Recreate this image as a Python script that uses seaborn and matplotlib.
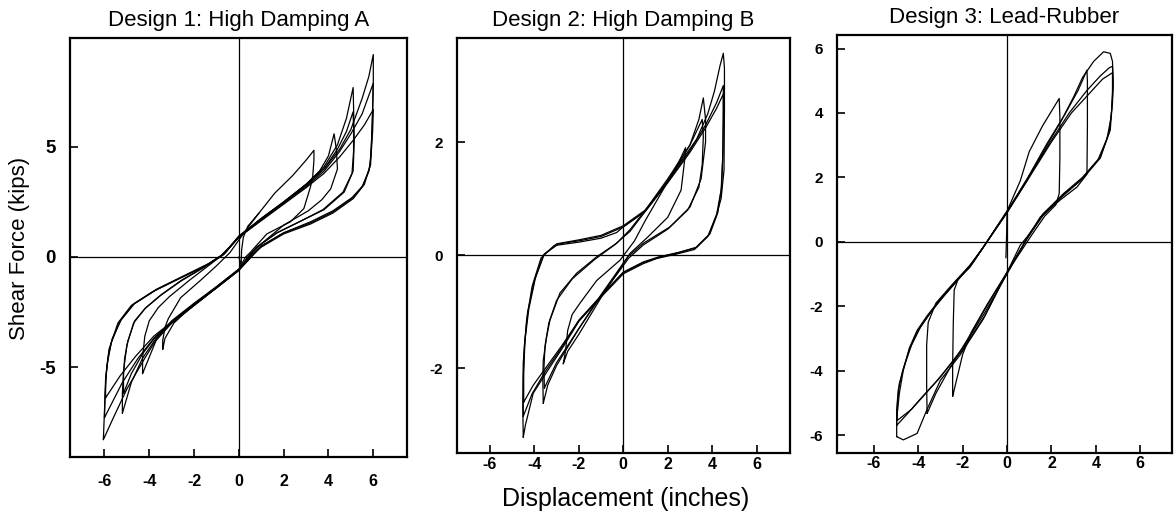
"""
Hysteresis loops (shear force vs displacement) for three isolator designs.
"""

import numpy as np
import pandas as pd
import matplotlib
matplotlib.use("Agg")
import matplotlib.pyplot as plt
import seaborn as sns

# ── Design 1: High Damping A ─────────────────────────────────────────────────
d1_loop1_disp = [-6.05, -6.0, -5.95, -5.8, -5.4, -4.8, -3.8, -2.6, -1.5, -0.7, 0, 1, 2, 3, 3.8, 4.5, 5.0, 5.5, 5.8, 6.0,
                 6.0, 5.95, 5.88, 5.6, 5.1, 4.2, 3.2, 2.0, 1.0, 0.5, 0, -1, -2, -3, -3.6, -4.2, -5.0, -5.6, -6.05]
d1_loop1_force = [-8.3, -7.0, -5.6, -4.2, -3.0, -2.2, -1.55, -0.95, -0.4, 0.1, 0.95, 1.75, 2.5, 3.3, 4.0, 4.9, 5.8, 7.2, 8.2, 9.2,
                  8.0, 6.0, 4.2, 3.3, 2.65, 2.0, 1.5, 1.05, 0.45, 0.0, -0.55, -1.35, -2.1, -2.9, -3.6, -4.6, -6.0, -7.3, -8.3]

d1_loop2_disp = [-6.0, -5.97, -5.9, -5.7, -5.3, -4.7, -3.7, -2.5, -1.4, -0.7, 0, 1, 2, 3, 3.8, 4.5, 5.0, 5.5, 6.0,
                 5.97, 5.92, 5.85, 5.55, 5.1, 4.2, 3.2, 2.0, 1.0, 0.55, 0, -1, -2, -3, -3.8, -4.5, -5.2, -6.0]
d1_loop2_force = [-7.3, -6.2, -5.0, -3.9, -2.9, -2.15, -1.5, -0.9, -0.35, 0.1, 0.9, 1.7, 2.45, 3.2, 3.9, 4.8, 5.6, 6.5, 7.9,
                  6.5, 5.2, 4.1, 3.25, 2.7, 2.05, 1.55, 1.1, 0.5, 0.0, -0.6, -1.4, -2.15, -2.95, -3.7, -4.6, -5.7, -7.3]

d1_loop3_disp = [-5.95, -5.95, -5.85, -5.65, -5.25, -4.65, -3.65, -2.45, -1.35, -0.65, 0, 1, 2, 3, 3.8, 4.5, 5.1, 5.6, 6.0,
                 5.97, 5.9, 5.8, 5.5, 5.05, 4.2, 3.2, 2.0, 1.0, 0.55, 0, -1, -2, -3, -3.8, -4.6, -5.3, -5.95]
d1_loop3_force = [-6.4, -5.6, -4.6, -3.7, -2.85, -2.1, -1.45, -0.85, -0.3, 0.15, 0.9, 1.65, 2.4, 3.15, 3.8, 4.55, 5.3, 6.0, 6.7,
                  5.7, 4.6, 3.9, 3.2, 2.7, 2.1, 1.6, 1.1, 0.5, 0.0, -0.6, -1.4, -2.15, -2.95, -3.6, -4.5, -5.4, -6.4]

d1_loop4_disp = [-5.2, -5.2, -5.15, -5.0, -4.7, -4.2, -3.5, -2.6, -1.6, -0.8, 0, 1, 2, 3, 3.8, 4.4, 4.8, 5.1,
                 5.12, 5.15, 5.1, 4.7, 3.8, 2.7, 1.7, 0.8, 0.4, 0, -1, -2, -3, -3.7, -4.3, -4.8, -5.2]
d1_loop4_force = [-7.1, -6.2, -5.2, -4.0, -3.0, -2.35, -1.75, -1.1, -0.5, 0.05, 0.9, 1.75, 2.5, 3.3, 4.1, 5.1, 6.3, 7.7,
                  6.8, 5.3, 3.9, 2.95, 2.15, 1.6, 1.1, 0.45, 0.0, -0.6, -1.4, -2.2, -3.0, -3.7, -4.6, -5.7, -7.1]

d1_loop5_disp = [-5.15, -5.15, -5.1, -4.95, -4.65, -4.15, -3.45, -2.55, -1.55, -0.75, 0, 1, 2, 3, 3.8, 4.4, 4.8, 5.1,
                 5.12, 5.12, 5.05, 4.65, 3.75, 2.7, 1.7, 0.8, 0.4, 0, -1, -2, -3, -3.7, -4.3, -4.8, -5.15]
d1_loop5_force = [-6.2, -5.4, -4.6, -3.8, -2.9, -2.3, -1.7, -1.05, -0.45, 0.1, 0.9, 1.7, 2.45, 3.25, 4.0, 4.9, 5.7, 6.6,
                  5.8, 4.8, 3.8, 2.95, 2.15, 1.6, 1.1, 0.45, 0.0, -0.6, -1.4, -2.2, -3.0, -3.6, -4.4, -5.3, -6.2]

d1_loop6_disp = [-4.3, -4.3, -4.2, -4.0, -3.6, -3.1, -2.2, -1.3, -0.6, 0, 1, 2, 3, 3.6, 4.0, 4.25,
                 4.35, 4.4, 4.1, 3.7, 3.1, 2.0, 1.0, 0.45, 0, -1, -2, -3, -3.7, -4.3]
d1_loop6_force = [-5.3, -4.6, -3.6, -2.9, -2.3, -1.8, -1.05, -0.35, 0.2, 0.95, 1.75, 2.5, 3.3, 3.9, 4.6, 5.6,
                  4.9, 4.0, 3.1, 2.6, 2.1, 1.45, 0.6, 0.0, -0.6, -1.4, -2.2, -3.0, -3.8, -5.3]

d1_loop7_disp = [-3.4, -3.4, -3.3, -3.15, -2.6, -1.7, -1.0, -0.4, 0.3, 0.9, 1.6, 2.4, 3.0, 3.35,
                 3.35, 3.3, 3.2, 2.9, 2.3, 1.25, 0.5, 0.3, 0, -1, -2, -2.9, -3.3, -3.4]
d1_loop7_force = [-4.2, -3.8, -3.2, -2.8, -1.85, -1.05, -0.4, 0.2, 1.2, 2.0, 2.9, 3.7, 4.4, 4.85,
                  4.4, 3.7, 3.2, 2.2, 1.6, 1.05, 0.2, 0.0, -0.55, -1.35, -2.15, -3.0, -3.7, -4.2]

d1_start_disp = [0.0, 0.1, 0.12, 0.2, 0.4, 0.9]
d1_start_force = [0.0, -0.4, 0.3, 0.9, 1.4, 2.0]

# ── Design 2: High Damping B ─────────────────────────────────────────────────
d2_loop1_disp = [-4.5, -4.52, -4.5, -4.35, -4.1, -3.7, -3.1, -2.0, -1.0, -0.3, 0, 0.9, 1.7, 2.4, 3.3, 3.8, 4.1, 4.35, 4.5,
                 4.55, 4.55, 4.53, 4.4, 4.2, 3.8, 3.2, 2.4, 1.5, 0.9, 0, -1, -2, -2.7, -3.4, -4.05, -4.4, -4.5]
d2_loop1_force = [-3.22, -2.7, -1.9, -1.15, -0.55, -0.05, 0.17, 0.23, 0.3, 0.4, 0.5, 0.75, 1.15, 1.55, 2.05, 2.5, 2.9, 3.35, 3.57,
                  3.3, 2.6, 1.5, 1.0, 0.72, 0.33, 0.1, 0.02, -0.06, -0.15, -0.33, -0.74, -1.17, -1.62, -2.04, -2.44, -3.0, -3.22]

d2_loop2_disp = [-4.5, -4.5, -4.45, -4.3, -4.0, -3.6, -3.0, -2.0, -1.0, 0, 1, 2, 3, 3.7, 4.2, 4.5,
                 4.5, 4.48, 4.42, 4.25, 3.9, 3.3, 2.5, 1.6, 0.9, 0, -1, -2, -2.8, -3.5, -4.1, -4.5]
d2_loop2_force = [-2.85, -2.2, -1.6, -1.0, -0.45, 0.0, 0.2, 0.27, 0.35, 0.52, 0.8, 1.3, 1.85, 2.3, 2.7, 3.0,
                  2.6, 1.8, 1.2, 0.75, 0.38, 0.14, 0.05, -0.03, -0.12, -0.3, -0.72, -1.15, -1.65, -2.05, -2.45, -2.85]

d2_loop3_disp = [-4.48, -4.48, -4.42, -4.25, -3.95, -3.55, -2.9, -1.9, -1.0, 0, 1, 2, 3, 3.7, 4.2, 4.5,
                 4.5, 4.47, 4.4, 4.2, 3.85, 3.25, 2.45, 1.6, 0.9, 0, -1, -2, -2.8, -3.5, -4.05, -4.48]
d2_loop3_force = [-2.6, -2.05, -1.5, -0.95, -0.4, 0.02, 0.2, 0.26, 0.33, 0.5, 0.78, 1.28, 1.82, 2.25, 2.6, 2.85,
                  2.4, 1.7, 1.15, 0.72, 0.36, 0.13, 0.04, -0.04, -0.13, -0.31, -0.72, -1.16, -1.62, -2.0, -2.3, -2.6]

d2_loop4_disp = [-3.6, -3.62, -3.6, -3.45, -3.3, -2.85, -2.1, -1.2, -0.3, 0.3, 1, 2, 3, 3.4, 3.6,
                 3.7, 3.7, 3.5, 3.0, 2.1, 0.9, 0.2, -1, -2, -3, -3.4, -3.6]
d2_loop4_force = [-2.62, -2.2, -1.86, -1.45, -1.15, -0.67, -0.32, -0.03, 0.21, 0.45, 0.8, 1.35, 1.95, 2.4, 2.78,
                  2.4, 2.0, 1.35, 0.85, 0.5, 0.21, -0.03, -0.7, -1.3, -1.95, -2.3, -2.62]

d2_loop5_disp = [-3.55, -3.57, -3.52, -3.35, -3.0, -2.3, -1.3, -0.4, 0.3, 1, 2, 3, 3.55,
                 3.6, 3.55, 3.4, 2.9, 2.0, 0.9, 0.25, -1, -2, -3, -3.55]
d2_loop5_force = [-2.35, -2.0, -1.6, -1.2, -0.8, -0.42, -0.08, 0.18, 0.42, 0.78, 1.3, 1.95, 2.4,
                  2.1, 1.6, 1.2, 0.8, 0.46, 0.18, -0.05, -0.72, -1.3, -1.9, -2.35]

d2_loop6_disp = [-2.7, -2.6, -2.5, -2.3, -1.95, -1.2, -0.15, 0.5, 1, 2, 2.5, 2.8,
                 2.75, 2.6, 2.0, 1.1, 0.3, -0.5, -1, -2, -2.5, -2.7]
d2_loop6_force = [-1.92, -1.7, -1.33, -1.05, -0.85, -0.45, -0.09, 0.25, 0.62, 1.3, 1.65, 1.9,
                  1.65, 1.15, 0.67, 0.32, 0.03, -0.45, -0.75, -1.4, -1.7, -1.92]

# ── Design 3: Lead-Rubber ────────────────────────────────────────────────────
d3_loop1_disp = [-4.97, -4.97, -4.85, -4.67, -4.4, -4.05, -3.6, -3.15, -2.25, -1.66, -1.07, 0, 0.9, 1.8, 2.4, 3.0, 3.4, 3.9, 4.35, 4.65, 4.75,
                 4.78, 4.65, 4.2, 3.4, 2.55, 1.65, 0.9, 0.6, 0, -1.07, -2.1, -3.0, -3.6, -4.05, -4.67, -4.97]
d3_loop1_force = [-6.05, -5.5, -4.7, -3.98, -3.3, -2.75, -2.3, -1.9, -1.19, -0.78, -0.17, 0.92, 1.9, 3.0, 3.7, 4.5, 5.1, 5.6, 5.9, 5.85, 5.6,
                  4.8, 3.47, 2.63, 2.0, 1.5, 0.88, 0.15, -0.1, -0.95, -2.4, -3.5, -4.3, -5.2, -5.95, -6.15, -6.05]

d3_loop2_disp = [-4.97, -4.97, -4.9, -4.7, -4.4, -4.0, -3.5, -3.0, -2.2, -1.6, -1.0, 0, 1, 2, 2.8, 3.6, 4.2, 4.6, 4.75,
                 4.78, 4.75, 4.6, 4.2, 3.4, 2.5, 1.6, 0.85, 0, -1, -2, -3, -3.8, -4.5, -4.97]
d3_loop2_force = [-5.7, -5.2, -4.6, -4.0, -3.35, -2.75, -2.25, -1.8, -1.15, -0.7, -0.1, 0.95, 2.05, 3.15, 4.0, 4.7, 5.15, 5.4, 5.45,
                  5.0, 4.3, 3.4, 2.6, 1.95, 1.45, 0.85, 0.05, -1.0, -2.2, -3.3, -4.2, -4.8, -5.35, -5.7]

d3_loop3_disp = [-4.95, -4.93, -4.85, -4.6, -4.3, -3.9, -3.4, -2.8, -2.1, -1.5, -0.95, 0, 1, 2, 2.9, 3.7, 4.3, 4.75,
                 4.75, 4.7, 4.5, 4.1, 3.3, 2.4, 1.6, 0.9, 0, -1, -2, -3.2, -4.3, -4.95]
d3_loop3_force = [-5.55, -5.0, -4.4, -3.8, -3.2, -2.65, -2.15, -1.65, -1.1, -0.6, -0.05, 0.9, 2.0, 3.1, 4.0, 4.6, 5.05, 5.25,
                  4.7, 3.9, 3.2, 2.55, 1.9, 1.35, 0.8, 0.1, -0.95, -2.3, -3.35, -4.35, -5.2, -5.55]

d3_loop4_disp = [-3.6, -3.62, -3.62, -3.55, -3.2, -2.5, -1.7, -1.05, 0, 0.9, 1.8, 2.6, 3.2, 3.6,
                 3.62, 3.62, 3.6, 3.15, 2.4, 1.5, 0.9, 0, -1, -1.8, -2.6, -3.2, -3.6]
d3_loop4_force = [-5.33, -4.5, -3.2, -2.5, -1.9, -1.35, -0.75, -0.15, 0.92, 1.95, 3.05, 3.95, 4.7, 5.33,
                  4.97, 3.6, 2.1, 1.7, 1.3, 0.77, 0.1, -0.95, -2.1, -3.05, -3.95, -4.7, -5.33]

d3_loop5_disp = [-2.45, -2.45, -2.42, -2.38, -2.2, -1.7, -1.1, 0, 0.6, 1.0, 1.6, 2.35,
                 2.38, 2.38, 2.35, 2.2, 1.7, 1.1, 0, -0.9, -1.6, -2.0, -2.45]
d3_loop5_force = [-4.8, -3.9, -2.5, -1.5, -1.15, -0.8, -0.2, 0.95, 1.9, 2.8, 3.6, 4.45,
                  3.9, 2.6, 1.5, 1.15, 0.8, 0.2, -0.95, -1.95, -2.8, -3.5, -4.8]

d3_start_disp = [-0.05, -0.02, 0.0]
d3_start_force = [-0.5, 0.2, 0.9]

# ── Panel setup ──────────────────────────────────────────────────────────────
titles = ["Design 1: High Damping A", "Design 2: High Damping B", "Design 3: Lead-Rubber"]
x_ticks = [-6, -4, -2, 0, 2, 4, 6]
y_ticks = [[-5, 0, 5], [-2, 0, 2], [-6, -4, -2, 0, 2, 4, 6]]

panels = [
    [(d1_loop1_disp, d1_loop1_force), (d1_loop2_disp, d1_loop2_force), (d1_loop3_disp, d1_loop3_force),
     (d1_loop4_disp, d1_loop4_force), (d1_loop5_disp, d1_loop5_force), (d1_loop6_disp, d1_loop6_force),
     (d1_loop7_disp, d1_loop7_force), (d1_start_disp, d1_start_force)],
    [(d2_loop1_disp, d2_loop1_force), (d2_loop2_disp, d2_loop2_force), (d2_loop3_disp, d2_loop3_force),
     (d2_loop4_disp, d2_loop4_force), (d2_loop5_disp, d2_loop5_force), (d2_loop6_disp, d2_loop6_force)],
    [(d3_loop1_disp, d3_loop1_force), (d3_loop2_disp, d3_loop2_force), (d3_loop3_disp, d3_loop3_force),
     (d3_loop4_disp, d3_loop4_force), (d3_loop5_disp, d3_loop5_force), (d3_start_disp, d3_start_force)],
]

sns.set_style("ticks")
plt.rcParams["font.family"] = ["Liberation Sans", "DejaVu Sans"]
plt.rcParams["text.color"] = "black"
plt.rcParams["xtick.color"] = "black"
plt.rcParams["ytick.color"] = "black"

fig = plt.figure(figsize=(11.76, 5.25), dpi=100)
boxes = [[0.0595, 0.1295, 0.2865, 0.798],
         [0.3886, 0.137, 0.2832, 0.7906],
         [0.7117, 0.137, 0.2849, 0.7963]]
xlims = [(-7.54, 7.5), (-7.48, 7.5), (-7.66, 7.43)]
ylims = [(-9.09, 9.95), (-3.5, 3.84), (-6.56, 6.42)]
x_pads = [12, 3, 2]

for i, loops in enumerate(panels):
    ax = fig.add_axes(boxes[i])
    frames = []
    for k, (dx, fy) in enumerate(loops):
        frames.append(pd.DataFrame({"disp": dx, "force": fy, "loop": k}))
    df = pd.concat(frames, ignore_index=True)

    ax.axhline(0, color="black", lw=0.9, zorder=1)
    ax.axvline(0, color="black", lw=0.9, zorder=1)
    sns.lineplot(data=df, x="disp", y="force", units="loop", estimator=None,
                 sort=False, color="black", lw=0.9, ax=ax, legend=False)

    ax.set_xlim(*xlims[i])
    ax.set_ylim(*ylims[i])
    ax.set_xticks(x_ticks)
    ax.set_xticklabels([str(t) for t in x_ticks])
    ax.set_yticks(y_ticks[i])
    ax.set_yticklabels([str(t) for t in y_ticks[i]])
    ax.set_xlabel("")
    ax.set_ylabel("")
    ax.set_title(titles[i], fontsize=16, pad=9)
    ax.tick_params(axis="x", direction="in", length=6, width=1.2, pad=x_pads[i], labelsize=11.5)
    ax.tick_params(axis="y", direction="in", length=6, width=1.2, pad=10,
                   labelsize=13.5 if i == 0 else 11)
    for lab in ax.get_xticklabels() + ax.get_yticklabels():
        lab.set_fontweight("bold")
    for s in ax.spines.values():
        s.set_visible(True)
        s.set_linewidth(1.6)
        s.set_color("black")

fig.text(0.017, 0.527, "Shear Force (kips)", rotation=90, ha="center", va="center", fontsize=16)
fig.text(0.532, 0.05, "Displacement (inches)", ha="center", va="center", fontsize=18)

plt.savefig("out.png", dpi=100)
plt.close()
